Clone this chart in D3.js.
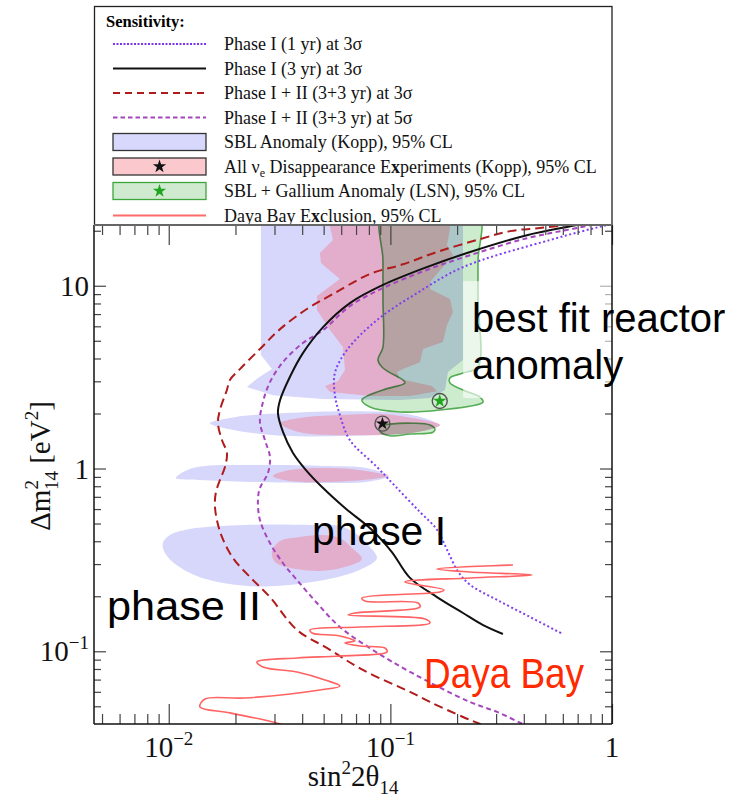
<!DOCTYPE html>
<html>
<head>
<meta charset="utf-8">
<script src="https://cdn.jsdelivr.net/npm/d3@7/dist/d3.min.js"></script>
<style>
  body { margin: 0; background: #fff; }
  svg { display: block; }
  text { font-family: "Liberation Serif", "DejaVu Serif", serif; }
  text.sans { font-family: "Liberation Sans", Arial, sans-serif; }
</style>
</head>
<body>
<svg id="misvg"></svg>
<script>
// values, as [sin^2 2theta14, dm^2_14 in eV^2]
const phaseI_1yr = [[1.48,24.4],[0.949,21.5],[0.525,17.8],[0.213,12.65],[0.132,9.12],[0.087,6.49],[0.0637,4.45],[0.0562,3.33],[0.0562,2.52],[0.0592,1.96],[0.0657,1.43],[0.087,1.02],[0.105,0.802],[0.136,0.578],[0.162,0.464],[0.180,0.360],[0.202,0.273],[0.229,0.231],[0.303,0.191],[0.427,0.154],[0.601,0.124]];
const phaseI_3yr = [[1.17,24.4],[0.695,21.5],[0.413,18.9],[0.229,15.3],[0.146,12.65],[0.0926,10.1],[0.0657,8.04],[0.0497,5.94],[0.0403,4.28],[0.0352,3.17],[0.0318,2.37],[0.0311,2.01],[0.0328,1.58],[0.0363,1.22],[0.0416,0.981],[0.0497,0.782],[0.0624,0.608],[0.0826,0.461],[0.1016,0.349],[0.1226,0.252],[0.1623,0.198],[0.2127,0.162],[0.262,0.139],[0.322,0.1243]];
const phaseII_3s = [[0.883,22.3],[0.695,21.75],[0.473,20.7],[0.3465,19.9],[0.2537,18.0],[0.1623,15.3],[0.114,13.1],[0.0809,11.6],[0.0551,9.01],[0.042,7.46],[0.0318,5.79],[0.0258,4.51],[0.02096,3.50],[0.01888,3.05],[0.0183,2.69],[0.01702,2.09],[0.01667,1.774],[0.01738,1.432],[0.0183,1.216],[0.01793,1.019],[0.01702,0.865],[0.01633,0.744],[0.01615,0.631],[0.0165,0.522],[0.01738,0.422],[0.01949,0.324],[0.02324,0.255],[0.02862,0.198],[0.03788,0.1308],[0.0517,0.1043],[0.0752,0.079],[0.1252,0.0592],[0.1509,0.0528],[0.2127,0.0437],[0.2537,0.04],[0.3123,0.0357]];
const phaseII_5s = [[1.17,23.6],[0.695,20.7],[0.413,18.2],[0.229,14.7],[0.146,12.2],[0.0926,9.71],[0.0657,7.74],[0.0497,5.72],[0.0403,4.86],[0.03275,3.82],[0.02862,2.97],[0.02661,2.31],[0.02579,1.796],[0.02716,1.432],[0.02862,1.156],[0.02803,0.945],[0.02579,0.782],[0.02526,0.673],[0.02579,0.523],[0.02862,0.391],[0.03275,0.304],[0.03788,0.2455],[0.04664,0.1837],[0.0592,0.1358],[0.0834,0.1016],[0.1252,0.0761],[0.2286,0.0528],[0.3027,0.0466],[0.3965,0.04],[0.4732,0.0366]];
const dayaBay = [[0.0391,0.0362],[0.0318,0.040],[0.01888,0.046],[0.01382,0.0496],[0.01457,0.0548],[0.02207,0.0555],[0.0481,0.0614],[0.0592,0.0646],[0.0507,0.0697],[0.0379,0.077],[0.0266,0.0821],[0.025,0.0874],[0.0379,0.0919],[0.0592,0.0943],[0.0965,0.0991],[0.0945,0.1042],[0.0729,0.1069],[0.0624,0.111],[0.0692,0.1138],[0.0592,0.1213],[0.0443,0.1259],[0.0434,0.1308],[0.0729,0.1358],[0.1509,0.1429],[0.1432,0.1502],[0.0644,0.158],[0.0692,0.1621],[0.136,0.1747],[0.1332,0.1837],[0.0768,0.1884],[0.0744,0.1956],[0.1674,0.2111],[0.1745,0.2165],[0.1163,0.2394],[0.2286,0.2518],[0.4355,0.2615],[0.2286,0.2716],[0.1623,0.282],[0.3574,0.2966]];

// SBL anomaly (Kopp) 95% CL, blue
const sblUpper = [[0.02605,25],[0.02605,4.18],[0.02921,3.50],[0.02526,3.13],[0.02253,2.79],[0.02951,2.52],[0.0497,2.40],[0.1104,2.37],[0.1509,2.43],[0.1764,2.69],[0.1819,3.37],[0.2127,3.92],[0.2127,25]];
const sblIsland1 = [[0.01534,1.77],[0.01989,1.91],[0.03343,2.01],[0.0657,2.06],[0.1104,2.01],[0.1509,1.84],[0.164,1.73],[0.136,1.60],[0.0657,1.51],[0.03343,1.51],[0.01989,1.62]];
const sblIsland2 = [[0.01077,0.887],[0.01285,1.006],[0.02633,1.045],[0.0534,1.032],[0.0776,1.006],[0.0985,0.910],[0.0776,0.844],[0.0534,0.833],[0.02324,0.844],[0.01382,0.865]];
const sblIsland3 = [[0.00941,0.391],[0.01012,0.433],[0.01246,0.467],[0.02207,0.491],[0.0434,0.491],[0.0592,0.485],[0.0692,0.444],[0.0792,0.382],[0.087,0.324],[0.0729,0.279],[0.0534,0.249],[0.0318,0.228],[0.02207,0.228],[0.01457,0.249],[0.011,0.293],[0.00961,0.345]];

// all nu_e disappearance (Kopp) 95% CL, pink
const nueUpper = [[0.0517,25],[0.0551,17.8],[0.0481,15.1],[0.04861,13.3],[0.0592,10.9],[0.04664,8.78],[0.04664,7.36],[0.0534,5.72],[0.0611,4.62],[0.0624,3.46],[0.058,3.01],[0.0507,2.83],[0.0534,2.62],[0.0809,2.49],[0.1226,2.49],[0.1623,2.65],[0.1541,2.83],[0.1104,3.09],[0.1071,3.37],[0.114,3.50],[0.136,3.82],[0.1403,4.51],[0.1727,4.92],[0.18,6.10],[0.1916,7.18],[0.1857,8.46],[0.1509,9.59],[0.1509,10.5],[0.1916,14.7],[0.18,16.7],[0.1857,20.4],[0.1857,25]];
const nueIsland1 = [[0.0318,1.77],[0.0391,1.89],[0.0592,1.96],[0.0926,1.99],[0.1318,1.87],[0.1674,1.73],[0.1318,1.58],[0.0657,1.52],[0.0391,1.58]];
const nueIsland2 = [[0.02951,0.910],[0.0352,0.981],[0.0657,0.994],[0.0965,0.910],[0.0657,0.854],[0.0352,0.854]];
const nueIsland3 = [[0.02921,0.349],[0.0318,0.401],[0.0391,0.422],[0.0481,0.433],[0.0592,0.417],[0.0671,0.367],[0.0744,0.320],[0.0624,0.289],[0.0481,0.275],[0.0352,0.286],[0.03014,0.308]];

// SBL + gallium anomaly (LSN) 95% CL, green
const lsnMain = [[0.0926,25],[0.0926,13.8],[0.0926,8.35],[0.0926,4.62],[0.0879,3.92],[0.0926,3.55],[0.114,3.05],[0.1163,2.94],[0.0926,2.69],[0.0744,2.37],[0.0809,2.17],[0.1104,2.04],[0.1674,2.09],[0.2617,2.31],[0.2537,2.46],[0.2127,2.69],[0.1857,2.94],[0.1857,3.13],[0.2127,3.33],[0.2485,3.59],[0.2485,8.35],[0.2485,13.8],[0.2485,25]];
const lsnIsland = [[0.0897,1.71],[0.0996,1.75],[0.1264,1.77],[0.1509,1.73],[0.1589,1.64],[0.1557,1.58],[0.1226,1.544],[0.0996,1.51],[0.0897,1.60]];

const bestFitKopp = [0.0921, 1.76];
const bestFitLSN = [0.167, 2.34];

const xMajor = [0.01, 0.1, 1];
const xMajorLabels = [["10", "\u22122"], ["10", "\u22121"], ["1", ""]];
const yMajor = [0.1, 1, 10];
const yMajorLabels = [["10", "\u22121"], ["1", ""], ["10", ""]];

const legendLabels = [
  [["Phase I (1 yr) at 3\u03c3"]],
  [["Phase I (3 yr) at 3\u03c3"]],
  [["Phase I + II (3+3 yr) at 3\u03c3"]],
  [["Phase I + II (3+3 yr) at 5\u03c3"]],
  [["SBL Anomaly (Kopp), 95% CL"]],
  [["All \u03bd"], ["e", "sub"], [" Disappearance E", "up"], ["x", "b"], ["periments (Kopp), 95% CL"]],
  [["SBL + Gallium Anomaly (LSN), 95% CL"]],
  [["Daya Bay E"], ["x", "b"], ["clusion, 95% CL"]]
];

const width = 731, height = 800;
const plot = { left: 94, right: 612, top: 225, bottom: 724 };

const svg = d3.select("#misvg").attr("width", width).attr("height", height);
svg.append("rect").attr("width", width).attr("height", height).attr("fill", "#fff");

const x = d3.scaleLog().domain([0.0046, 1]).range([plot.left, plot.right]);
const y = d3.scaleLog().domain([0.04, 21.5]).range([plot.bottom, plot.top]);

svg.append("defs").append("clipPath").attr("id", "clip").append("rect")
  .attr("x", plot.left).attr("y", plot.top)
  .attr("width", plot.right - plot.left).attr("height", plot.bottom - plot.top);

const g = svg.append("g").attr("clip-path", "url(#clip)");

const polyLine = d3.line().x(d => x(d[0])).y(d => y(d[1])).curve(d3.curveLinearClosed);
const blobLine = d3.line().x(d => x(d[0])).y(d => y(d[1])).curve(d3.curveCatmullRomClosed.alpha(0.5));
const smoothLine = d3.line().x(d => x(d[0])).y(d => y(d[1])).curve(d3.curveCatmullRom.alpha(0.5));

// filled regions
const blue = "#d7d7fb", pink = "#e3aecb";
g.append("path").attr("d", polyLine(sblUpper)).attr("fill", blue);
[sblIsland1, sblIsland2, sblIsland3].forEach(d => g.append("path").attr("d", blobLine(d)).attr("fill", blue));
g.append("path").attr("d", polyLine(nueUpper)).attr("fill", pink);
[nueIsland1, nueIsland2, nueIsland3].forEach(d => g.append("path").attr("d", blobLine(d)).attr("fill", pink));
[lsnMain, lsnIsland].forEach(d => g.append("path").attr("d", blobLine(d))
  .attr("fill", "#cdeccd").style("mix-blend-mode", "multiply")
  .attr("stroke", "#55ad55").attr("stroke-width", 1.6));

// sensitivity curves
g.append("path").attr("d", smoothLine(phaseII_3s)).attr("fill", "none")
  .attr("stroke", "#b01c1c").attr("stroke-width", 2).attr("stroke-dasharray", "9,5");
g.append("path").attr("d", smoothLine(phaseII_5s)).attr("fill", "none")
  .attr("stroke", "#a646bf").attr("stroke-width", 2).attr("stroke-dasharray", "5,3.5");
g.append("path").attr("d", smoothLine(phaseI_3yr)).attr("fill", "none")
  .attr("stroke", "#111").attr("stroke-width", 2);
g.append("path").attr("d", smoothLine(phaseI_1yr)).attr("fill", "none")
  .attr("stroke", "#8040f0").attr("stroke-width", 2).attr("stroke-dasharray", "2,2.5");
g.append("path").attr("d", smoothLine(dayaBay)).attr("fill", "none")
  .attr("stroke", "#ff6363").attr("stroke-width", 1.6).attr("stroke-linejoin", "round");

// best fit points
[[bestFitLSN, "#1fa51f"], [bestFitKopp, "#111"]].forEach(([p, c]) => {
  g.append("circle").attr("cx", x(p[0])).attr("cy", y(p[1])).attr("r", 7.5)
    .attr("fill", "none").attr("stroke", "#555").attr("stroke-width", 1.4);
  g.append("path").attr("d", d3.symbol(d3.symbolStar, 55)())
    .attr("transform", `translate(${x(p[0])},${y(p[1])})`).attr("fill", c);
});

// ticks on all four sides
function minorTicks(lo, hi, min, max) {
  const out = [];
  for (let e = lo; e < hi; e++) for (let k = 2; k < 10; k++) out.push(k * Math.pow(10, e));
  return out.filter(v => v > min && v < max);
}
const xMinor = minorTicks(-3, 0, 0.0046, 1);
const yMinor = minorTicks(-2, 2, 0.04, 21.5);

function ticks(axis, tr, vals, size) {
  const a = svg.append("g").attr("transform", tr)
    .call(axis.tickValues(vals).tickSize(size).tickFormat(""));
  a.select(".domain").remove();
  a.selectAll("line").attr("stroke", "#444").attr("stroke-width", 1.2);
}
ticks(d3.axisBottom(x), `translate(0,${plot.bottom})`, xMinor, -10);
ticks(d3.axisBottom(x), `translate(0,${plot.bottom})`, xMajor, -20);
ticks(d3.axisTop(x), `translate(0,${plot.top})`, xMinor, -10);
ticks(d3.axisTop(x), `translate(0,${plot.top})`, xMajor, -20);
ticks(d3.axisLeft(y), `translate(${plot.left},0)`, yMinor, -7);
ticks(d3.axisLeft(y), `translate(${plot.left},0)`, yMajor, -12);
ticks(d3.axisRight(y), `translate(${plot.right},0)`, yMinor, -7);
ticks(d3.axisRight(y), `translate(${plot.right},0)`, yMajor, -12);

// translucent box behind "best fit reactor anomaly"
svg.append("rect").attr("x", x(0.213)).attr("y", y(10.6))
  .attr("width", width - x(0.213)).attr("height", y(2.43) - y(10.6))
  .attr("fill", "#fff").attr("opacity", 0.6);

// frame
const frame = svg.append("g").attr("stroke", "#111").attr("stroke-width", 1.5);
frame.append("line").attr("x1", plot.left).attr("x2", plot.left).attr("y1", plot.top).attr("y2", plot.bottom);
frame.append("line").attr("x1", plot.right).attr("x2", plot.right).attr("y1", plot.top).attr("y2", plot.bottom);
frame.append("line").attr("x1", plot.left).attr("x2", plot.right).attr("y1", plot.bottom).attr("y2", plot.bottom);

// tick labels
const xl = svg.append("g").attr("font-size", 29).attr("text-anchor", "middle").attr("fill", "#111");
xMajor.forEach((v, i) => {
  const t = xl.append("text").attr("x", x(v)).attr("y", 757);
  t.append("tspan").text(xMajorLabels[i][0]);
  if (xMajorLabels[i][1]) t.append("tspan").attr("font-size", 19).attr("dy", -12).text(xMajorLabels[i][1]);
});
const yl = svg.append("g").attr("font-size", 29).attr("text-anchor", "end").attr("fill", "#111");
yMajor.forEach((v, i) => {
  const t = yl.append("text").attr("x", 89).attr("y", y(v) + 10);
  t.append("tspan").text(yMajorLabels[i][0]);
  if (yMajorLabels[i][1]) t.append("tspan").attr("font-size", 19).attr("dy", -12).text(yMajorLabels[i][1]);
});

// axis titles
const xt = svg.append("text").attr("x", 353).attr("y", 786).attr("font-size", 29)
  .attr("text-anchor", "middle").attr("fill", "#111");
xt.append("tspan").text("sin");
xt.append("tspan").attr("font-size", 19).attr("dy", -12).text("2");
xt.append("tspan").attr("dy", 12).text("2\u03b8");
xt.append("tspan").attr("font-size", 19).attr("dy", 8).text("14");

const yt = svg.append("text").attr("transform", "translate(50,466) rotate(-90)")
  .attr("font-size", 29).attr("text-anchor", "middle").attr("fill", "#111");
yt.append("tspan").text("\u0394m");
yt.append("tspan").attr("font-size", 19).attr("dy", -12).text("2");
yt.append("tspan").attr("font-size", 19).attr("dx", -10).attr("dy", 20).text("14");
yt.append("tspan").attr("dy", -8).text(" [eV");
yt.append("tspan").attr("font-size", 19).attr("dy", -12).text("2");
yt.append("tspan").attr("dy", 12).text("]");

// annotations
const ann = svg.append("g");
ann.append("text").attr("class", "sans").attr("x", 472).attr("y", 332).attr("font-size", 40).attr("fill", "#000").text("best fit reactor");
ann.append("text").attr("class", "sans").attr("x", 472).attr("y", 379).attr("font-size", 40).attr("fill", "#000").text("anomaly");
ann.append("text").attr("class", "sans").attr("x", 312).attr("y", 545).attr("font-size", 41)
  .attr("textLength", 134).attr("lengthAdjust", "spacingAndGlyphs").attr("fill", "#000").text("phase I");
ann.append("text").attr("class", "sans").attr("x", 107).attr("y", 620).attr("font-size", 41)
  .attr("textLength", 154).attr("lengthAdjust", "spacingAndGlyphs").attr("fill", "#000").text("phase II");
ann.append("text").attr("class", "sans").attr("x", 424).attr("y", 688).attr("font-size", 42)
  .attr("textLength", 160).attr("lengthAdjust", "spacingAndGlyphs").attr("fill", "#ff2a00").text("Daya Bay");

// legend
const leg = svg.append("g");
leg.append("rect").attr("x", 94.5).attr("y", 6.5).attr("width", 517.5).attr("height", 218.5)
  .attr("fill", "#fff").attr("stroke", "#222").attr("stroke-width", 1.3);
svg.append("line").attr("x1", plot.left).attr("x2", plot.right).attr("y1", plot.top).attr("y2", plot.top)
  .attr("stroke", "#666").attr("stroke-width", 1.8);
leg.append("text").attr("x", 106).attr("y", 27).attr("font-size", 16.5).attr("font-weight", "bold").text("Sensitivity:");

const rowY = i => 44 + i * 24.5;
const sampleX0 = 113, sampleX1 = 206;
const lineStyles = [
  { stroke: "#7a33f0", dash: "2,1.5", w: 2 },
  { stroke: "#111", dash: null, w: 2 },
  { stroke: "#b01c1c", dash: "7,5", w: 2 },
  { stroke: "#a646bf", dash: "4.5,3", w: 2 }
];
lineStyles.forEach((s, i) => {
  leg.append("line").attr("x1", sampleX0).attr("x2", sampleX1).attr("y1", rowY(i)).attr("y2", rowY(i))
    .attr("stroke", s.stroke).attr("stroke-width", s.w).attr("stroke-dasharray", s.dash);
});
const boxStyles = [
  { fill: "#d8d8fc", stroke: "#333", star: null },
  { fill: "#fac8cd", stroke: "#333", star: "#111" },
  { fill: "#cfeacf", stroke: "#3ca63c", star: "#1fa51f" }
];
boxStyles.forEach((s, j) => {
  const cy = rowY(4 + j);
  leg.append("rect").attr("x", sampleX0).attr("y", cy - 8.5).attr("width", sampleX1 - sampleX0).attr("height", 17)
    .attr("fill", s.fill).attr("stroke", s.stroke).attr("stroke-width", 1.3);
  if (s.star) leg.append("path").attr("d", d3.symbol(d3.symbolStar, 55)())
    .attr("transform", `translate(${(sampleX0 + sampleX1) / 2},${cy})`).attr("fill", s.star);
});
leg.append("line").attr("x1", sampleX0).attr("x2", sampleX1).attr("y1", rowY(7)).attr("y2", rowY(7))
  .attr("stroke", "#ff6a6a").attr("stroke-width", 2);

legendLabels.forEach((parts, i) => {
  const t = leg.append("text").attr("x", 224).attr("y", rowY(i) + 6).attr("font-size", 18).attr("fill", "#111");
  parts.forEach(([s, kind]) => {
    const ts = t.append("tspan").text(s);
    if (kind === "sub") ts.attr("font-size", 12).attr("dy", 4);
    else if (kind === "up") ts.attr("dy", -4);
    else if (kind === "b") ts.attr("font-weight", "bold");
  });
});
</script>
</body>
</html>
